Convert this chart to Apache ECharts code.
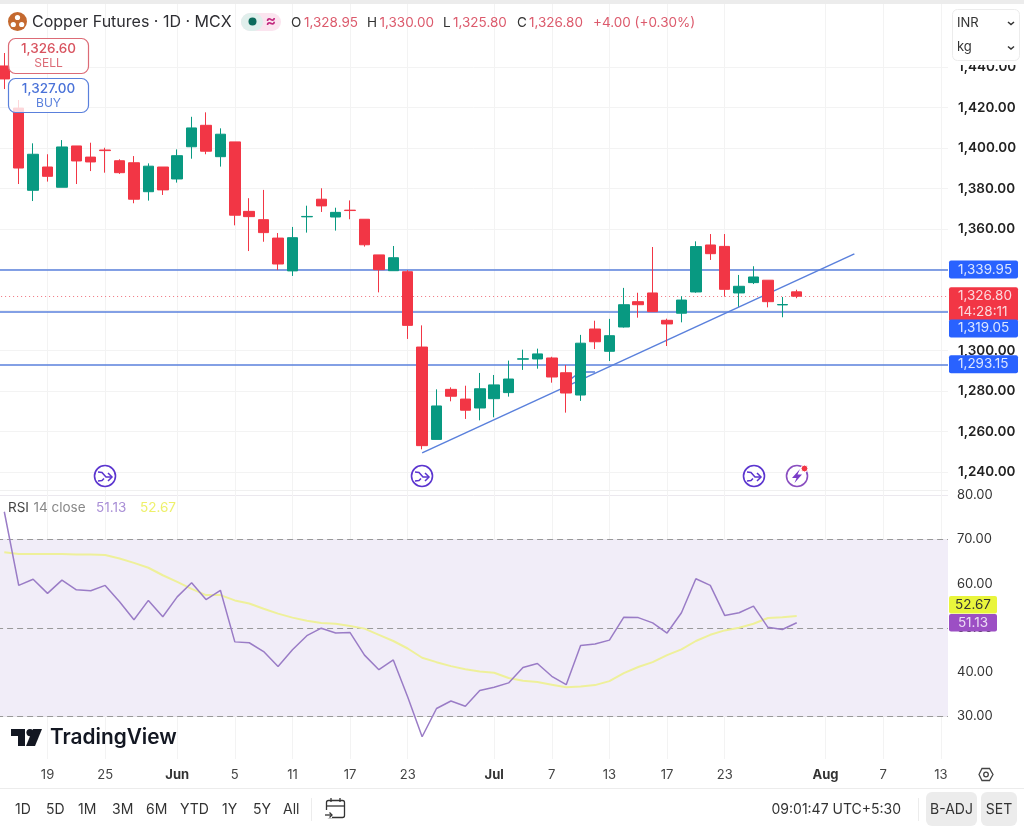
<!DOCTYPE html>
<html><head><meta charset="utf-8">
<style>html,body{margin:0;padding:0;background:#fff}#c{width:1024px;height:829px}</style>
<script src="https://cdn.jsdelivr.net/npm/echarts@6/dist/echarts.min.js"></script>
</head><body><div id="c"></div>
<script>
// first category is the partly visible bar at the left edge
const tickLabels = ['','','','19','','','','25','','','','','Jun','','','','5','','','','11','','','','17','','','','23','','','','','','Jul','','','','7','','','','13','','','','17','','','','23','','','','','','','Aug','','','','7','','','','13'];
const boldTicks = ['Jun','Jul','Aug'];
const priceTicks = [1240,1260,1280,1300,1320,1340,1360,1380,1400,1420,1440];
const rsiTicks = [30,40,50,60,70,80];
// open, close, low, high
const ohlc = [
[1440.5,1434.1,1429.1,1446.9],[1419.7,1390.1,1382.2,1423.7],[1379.1,1396.9,1373.8,1402.3],[1390.6,1386.0,1383.4,1396.9],
[1380.6,1400.5,1380.6,1403.9],[1401.0,1393.6,1382.2,1401.0],[1395.5,1393.1,1388.6,1402.6],[1399.0,1398.7,1387.8,1400.1],
[1393.7,1387.8,1387.2,1394.4],[1392.7,1374.7,1372.7,1396.0],[1378.4,1391.0,1374.0,1392.4],[1390.6,1379.3,1376.8,1390.6],
[1384.7,1396.2,1382.9,1399.3],[1400.6,1409.9,1394.7,1415.4],[1411.2,1398.4,1396.9,1417.6],[1395.7,1406.8,1390.8,1409.7],
[1403.0,1366.8,1361.8,1403.0],[1368.7,1366.1,1349.1,1375.2],[1364.6,1358.2,1353.7,1379.3],[1355.5,1342.7,1339.7,1358.0],
[1339.3,1355.7,1336.8,1361.0],[1366.0,1366.2,1358.2,1371.5],[1374.7,1371.4,1368.4,1380.1],[1365.9,1368.2,1359.2,1370.5],
[1369.3,1369.1,1364.8,1374.1],[1364.8,1352.2,1351.3,1364.8],[1347.2,1339.9,1328.7,1347.2],[1339.4,1345.8,1339.4,1351.6],
[1338.9,1312.4,1305.7,1339.7],[1301.7,1253.0,1251.2,1312.4],[1256.1,1272.6,1256.1,1280.8],[1280.8,1277.4,1274.9,1281.8],
[1276.0,1270.5,1266.2,1282.6],[1271.6,1281.1,1265.5,1288.9],[1276.2,1283.0,1267.0,1287.9],[1279.2,1285.9,1277.2,1295.0],
[1295.7,1295.9,1290.4,1300.4],[1295.8,1298.3,1291.0,1300.9],[1296.3,1286.9,1284.1,1296.9],[1289.0,1279.0,1269.3,1292.8],
[1278.0,1303.6,1275.1,1307.7],[1310.6,1304.3,1300.7,1314.7],[1299.6,1307.3,1294.8,1315.6],[1311.6,1322.6,1311.3,1330.9],
[1324.1,1322.6,1316.2,1328.5],[1328.4,1319.2,1319.2,1351.1],[1314.9,1313.1,1302.2,1315.7],[1318.4,1324.9,1313.9,1326.8],
[1328.9,1351.3,1328.5,1353.9],[1352.1,1347.8,1344.7,1357.5],[1351.4,1330.2,1326.6,1357.5],[1328.4,1331.7,1321.6,1337.3],
[1333.5,1336.3,1332.8,1341.6],[1334.7,1324.1,1321.3,1334.7],[1322.5,1322.7,1316.4,1326.4],[1328.95,1326.8,1325.8,1330.0]
];
const rsiValues = [76.3,59.6,61.0,57.8,60.8,58.6,58.4,59.6,55.9,51.8,56.2,52.5,57.0,60.2,56.4,58.5,46.8,46.6,44.6,41.2,45.0,48.2,49.9,48.8,48.9,43.8,40.5,42.7,34.3,25.3,31.7,33.4,32.2,35.8,36.5,37.5,41.0,41.9,39.0,37.1,46.0,46.3,47.2,52.4,52.3,51.1,48.8,53.4,61.1,59.6,52.8,53.4,54.9,50.1,49.6,51.13];
const rsiMa = [67.1,66.7,66.7,66.7,66.7,66.6,66.6,66.5,65.7,64.7,63.6,61.9,60.4,58.8,57.4,57.4,56.2,55.5,54.3,53.2,52.3,51.6,51.1,50.9,50.4,49.8,48.4,47.0,45.3,43.2,42.2,41.3,40.6,40.1,39.8,38.6,38.0,37.7,37.1,36.5,36.7,37.0,37.9,39.7,41.1,42.2,43.8,45.1,47.0,48.4,49.4,50.0,50.9,52.2,52.4,52.67];
const levels = [1339.95,1319.05,1293.15];
const lastPrice = 1326.8;
const trendStart = [29,1249.4], trendEnd = [59,1347.7];
const stubOne = [39,1284.2], stubTwo = [40,1289.5], stubThree = [41,1289.5];

const UP='#089981', DOWN='#f23645', FONT='Inter, "Noto Sans", sans-serif';
const fmt = v => v.toLocaleString('en-US',{minimumFractionDigits:2,maximumFractionDigits:2});
const chart = echarts.init(document.getElementById('c'),null,{renderer:'canvas'});

function T(text,x,y,size,fill,opt){opt=opt||{};return {type:'text',z:100,style:{text,x,y,fill,font:(opt.w||400)+' '+size+'px '+FONT,textAlign:opt.a||'left',textVerticalAlign:'middle'}};}
function R(x,y,w,h,r,fill,stroke,lw){return {type:'rect',z:99,shape:{x,y,width:w,height:h,r},style:{fill:fill||'none',stroke:stroke||'none',lineWidth:lw||1}};}
function L(points,stroke,lw,z){return {type:'polyline',z:z||100,shape:{points},style:{stroke,lineWidth:lw||1.5,fill:'none'}};}
function eventIcon(x,y){const c='#5b35cf';return [
 {type:'circle',z:100,shape:{cx:x,cy:y,r:10.5},style:{fill:'#fff',stroke:c,lineWidth:1.6}},
 L([[x-7,y-4],[x-3,y-3.5],[x+1,y+1],[x+7,y+1]],c,1.5),L([[x+3,y-3],[x+7,y+1],[x+3,y+5]],c,1.5),L([[x-7,y+5],[x-3,y+4.5],[x-1,y+2.5]],c,1.5)];}

const chrome = [
 R(0,0,1024,4,0,'#ececec'),
 R(0,490,948,1,0,'#f0f0f0'),
 R(0,788,1024,1,0,'#ececec'),
 // header
 {type:'circle',z:100,shape:{cx:17.5,cy:21.5,r:9.5},style:{fill:'#c4692f'}},
 {type:'circle',z:101,shape:{cx:17.5,cy:17.5,r:2.6},style:{fill:'#fff'}},
 {type:'circle',z:101,shape:{cx:13.3,cy:24.5,r:2.6},style:{fill:'#fff'}},
 {type:'circle',z:101,shape:{cx:21.7,cy:24.5,r:2.6},style:{fill:'#fff'}},
 T('Copper Futures · 1D · MCX',32,22.5,16,'#2e2e33'),
 R(241,13,40,18,9,'#fbe4ef'),
 R(241,13,22,18,9,'#e0efec'),
 {type:'circle',z:101,shape:{cx:252.5,cy:21.5,r:4},style:{fill:'#0c6b5c'}},
 T('≈',271,21.5,16,'#c2287e',{a:'center',w:600}),
 T('O',291,22.5,13.5,'#333'),T('1,328.95',304,22.5,13.5,'#dc5a6c'),
 T('H',367,22.5,13.5,'#333'),T('1,330.00',379.5,22.5,13.5,'#dc5a6c'),
 T('L',443,22.5,13.5,'#333'),T('1,325.80',453,22.5,13.5,'#dc5a6c'),
 T('C',517,22.5,13.5,'#333'),T('1,326.80',529,22.5,13.5,'#dc5a6c'),
 T('+4.00 (+0.30%)',593,22.5,13.5,'#dc5a6c'),
 // order boxes
 R(8.5,38.5,80,35,7,'rgba(255,255,255,0.8)','#dc6b76',1.2),
 T('1,326.60',48.5,49,13.5,'#d8535f',{a:'center',w:500}),T('SELL',48.5,63.5,12,'#dc6b76',{a:'center'}),
 R(8.5,78.5,80,34,7,'rgba(255,255,255,0.8)','#5a80dc',1.2),
 T('1,327.00',48.5,88.5,13.5,'#4a72d8',{a:'center',w:500}),T('BUY',48.5,103,12,'#5a80dc',{a:'center'}),
 // unit selector
 R(950,5,74,60,0,'#fff'),
 R(952.5,9.5,67,51,5,'#fff','#ececec',1),
 T('INR',957,23,13,'#333'),L([[1008,22],[1011,24.5],[1014,22]],'#333',1.5,101),
 T('kg',957,47.5,13,'#333'),L([[1008,46.5],[1011,49],[1014,46.5]],'#333',1.5,101),
 // event icons
 ...eventIcon(105,476),...eventIcon(422,476),...eventIcon(754,476),
 {type:'circle',z:100,shape:{cx:797,cy:476,r:10.5},style:{fill:'#fff',stroke:'#8a4fc0',lineWidth:1.6}},
 {type:'polygon',z:101,shape:{points:[[800,469],[792,478],[796.5,478],[794.5,483],[802,474.5],[797.5,474.5]]},style:{fill:'#7a3cc8'}},
 {type:'circle',z:102,shape:{cx:804.5,cy:468.5,r:3.4},style:{fill:'#f23645',stroke:'#fff',lineWidth:1}},
 // RSI legend
 T('RSI',8,507.5,13.5,'#444'),T('14 close',33.5,507.5,13.5,'#888'),
 T('51.13',96,507.5,13.5,'#a98fd6'),T('52.67',140,507.5,13.5,'#eef06a'),
 // RSI badges
 R(949,596,48,17.5,2,'#e9f53c'),T('52.67',973,605,13.5,'#333',{a:'center'}),
 R(949,614,48,17.5,2,'#9c4fc4'),T('51.13',973,623,13.5,'#ecdcf5',{a:'center'}),
 // TradingView logo
 {type:'polygon',z:100,shape:{points:[[11,729],[25,729],[25,746],[18,746],[18,736],[11,736]]},style:{fill:'#131722'}},
 {type:'circle',z:100,shape:{cx:30,cy:732.6,r:3.6},style:{fill:'#131722'}},
 {type:'polygon',z:100,shape:{points:[[33,729],[42,729],[35,746],[26,746]]},style:{fill:'#131722'}},
 T('TradingView',50,738,20.8,'#131722',{w:600}),
 // gear
 {type:'polygon',z:100,shape:{points:[[979,774.5],[982,768.5],[989.5,768.5],[993,774.5],[989.5,780.5],[982,780.5]]},style:{fill:'none',stroke:'#444',lineWidth:1.3}},
 {type:'circle',z:100,shape:{cx:986,cy:774.5,r:2.3},style:{fill:'none',stroke:'#444',lineWidth:1.3}},
 // toolbar
 ...[['1D',15],['5D',46],['1M',78],['3M',112],['6M',146],['YTD',180],['1Y',222],['5Y',253],['All',283]].map(a=>T(a[0],a[1],809.5,14,'#333')),
 R(311,798,1,23,0,'#ececec'),
 R(326.5,800.5,18,17,2,'none','#333',1.3),
 L([[326.5,806],[344.5,806]],'#333',1.3),L([[331,798],[331,802]],'#333',1.3),L([[340,798],[340,802]],'#333',1.3),
 R(325,810,7,8,0,'#fff'),L([[325,815],[332,815]],'#333',1.3),L([[329.5,812.5],[332,815],[329.5,817.5]],'#333',1.3),
 T('09:01:47 UTC+5:30',771.5,809.5,14,'#333'),
 R(918,798,1,23,0,'#ececec'),
 R(926,792,51,34,6,'#ececec'),T('B-ADJ',951.5,809.5,14,'#333',{a:'center'}),
 R(981,792,36,34,6,'#ececec'),T('SET',999,809.5,14,'#333',{a:'center'})
];

const tagLabel = (text,bg,color,off) => ({show:true,position:'end',distance:1,formatter:text,color,backgroundColor:bg,fontFamily:FONT,fontSize:13.5,lineHeight:16,width:60,align:'left',padding:[1,0,1,9],borderRadius:2,offset:off||[0,0]});
const blueLine = {lineStyle:{color:'#5a80dc',width:1.5,type:'solid'}};
const xBase = {type:'category',data:tickLabels,boundaryGap:true,axisLine:{show:false},axisTick:{show:false},
  splitLine:{show:true,alignWithLabel:true,interval:(i,v)=>v!=='',lineStyle:{color:'#f3f3f3',width:1}}};

chart.setOption({
 animation:false,backgroundColor:'#fff',
 grid:[
  {left:-2.9,right:76,top:4,height:486,containLabel:false,outerBoundsMode:'none'},
  {left:-2.9,right:76,top:491,height:268,containLabel:false,outerBoundsMode:'none'}
 ],
 xAxis:[
  {...xBase,gridIndex:0,axisLabel:{show:false}},
  {...xBase,gridIndex:1,axisLabel:{show:true,margin:10,interval:(i,v)=>v!=='',color:'#444',fontFamily:FONT,fontSize:13,
    hideOverlap:false,showMinLabel:true,showMaxLabel:true,
    formatter:v=>boldTicks.includes(v)?'{b|'+v+'}':v,rich:{b:{fontWeight:700,color:'#333',fontFamily:FONT,fontSize:13}}}}
 ],
 yAxis:[
  {type:'value',gridIndex:0,position:'right',min:1231.1,max:1471.1,scale:true,axisLine:{show:false},axisTick:{show:false,customValues:priceTicks},
   splitLine:{show:true,lineStyle:{color:'#f3f3f3'}},
   axisLabel:{customValues:priceTicks,margin:10,align:'left',padding:[2,0,0,0],color:'#222',fontFamily:FONT,fontSize:13.5,fontWeight:600,formatter:v=>fmt(v)}},
  {type:'value',gridIndex:1,position:'right',min:20.25,max:81,axisLine:{show:false},axisTick:{show:false,customValues:rsiTicks},
   splitLine:{show:true,lineStyle:{color:'#ebe8ee'}},
   axisLabel:{customValues:rsiTicks,margin:9,align:'left',padding:[2,0,0,0],color:'#333',fontFamily:FONT,fontSize:13,formatter:v=>v.toFixed(2)}}
 ],
 graphic:chrome,
 series:[
  {type:'candlestick',name:'Copper',xAxisIndex:0,yAxisIndex:0,data:ohlc,barWidth:11,z:3,
   itemStyle:{color:UP,color0:DOWN,borderColor:UP,borderColor0:DOWN,borderColorDoji:UP,borderWidth:1},
   markLine:{silent:true,z:2,symbol:'none',animation:false,data:[
    {yAxis:levels[0],...blueLine,label:tagLabel(fmt(levels[0]),'#2962ff','#dbe6ff')},
    {yAxis:levels[2],...blueLine,label:tagLabel(fmt(levels[2]),'#2962ff','#dbe6ff')},
    {yAxis:lastPrice,lineStyle:{color:'#f0737f',width:1,type:[1,3]},label:{...tagLabel(fmt(lastPrice)+'\n14:28:11','#f23645','#fcd9dd',[0,8]),lineHeight:16}},
    {yAxis:levels[1],...blueLine,label:tagLabel(fmt(levels[1]),'#2962ff','#dbe6ff',[0,16.5])},
    [{coord:trendStart,...blueLine,label:{show:false}},{coord:trendEnd}],
    [{coord:stubOne,...blueLine,label:{show:false}},{coord:stubTwo}],
    [{coord:stubTwo,...blueLine,label:{show:false}},{coord:stubThree}]
   ]}},
  {type:'line',name:'RSI',xAxisIndex:1,yAxisIndex:1,data:rsiValues,showSymbol:false,symbol:'none',z:4,lineStyle:{color:'#9a7cc6',width:1.5},
   markArea:{silent:true,z:1,itemStyle:{color:'#f1edf8'},data:[[{yAxis:30},{yAxis:70}]]},
   markLine:{silent:true,z:2,symbol:'none',animation:false,label:{show:false},lineStyle:{color:'#999999',width:1,type:[6,4]},data:[{yAxis:70},{yAxis:50},{yAxis:30}]}},
  {type:'line',name:'RSI MA',xAxisIndex:1,yAxisIndex:1,data:rsiMa,showSymbol:false,symbol:'none',z:3,lineStyle:{color:'#eef09a',width:2}}
 ]
});
</script></body></html>
